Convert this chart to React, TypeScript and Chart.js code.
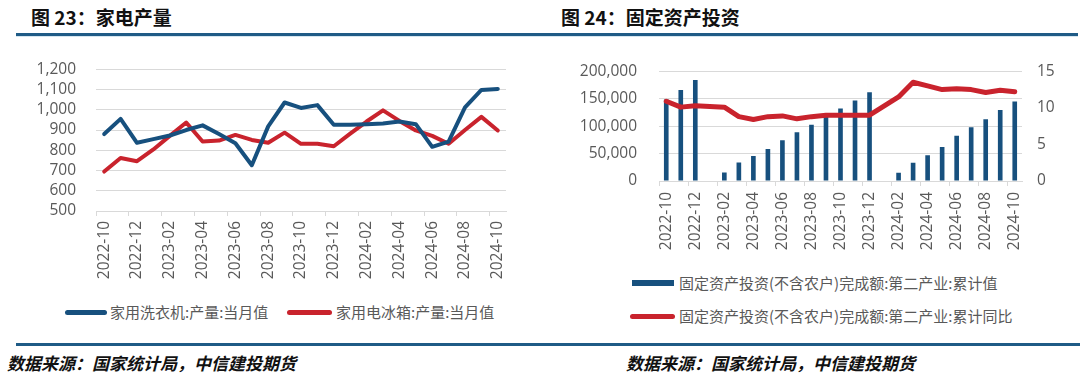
import React, { useEffect, useRef } from "react";
import { Chart, registerables } from "chart.js";
Chart.register(...registerables);

const months = [
  "2022-10", "2022-11", "2022-12",
  "2023-01", "2023-02", "2023-03", "2023-04", "2023-05", "2023-06",
  "2023-07", "2023-08", "2023-09", "2023-10", "2023-11", "2023-12",
  "2024-01", "2024-02", "2024-03", "2024-04", "2024-05", "2024-06",
  "2024-07", "2024-08", "2024-09", "2024-10",
];

// 家用洗衣机:产量:当月值
const washer = [
  880, 955, 837, 855, 873, 900, 923, 880, 835, 726, 918, 1036, 1009,
  1023, 926, 926, 929, 932, 942, 929, 817, 843, 1012, 1098, 1103,
];
// 家用电冰箱:产量:当月值
const fridge = [
  695, 762, 746, 804, 871, 937, 843, 848, 876, 851, 837, 887, 832,
  832, 820, 882, 942, 997, 945, 898, 871, 832, 900, 965, 898,
];
// 固定资产投资(不含农户)完成额:第二产业:累计值
const investCum = [
  148500, 165800, 184300, null, 15700, 33600, 45400, 58300, 74500,
  89100, 102500, 117500, 132200, 146800, 161900, null, 15100, 33100,
  47100, 62200, 82400, 98000, 112600, 129400, 145100,
];
// 固定资产投资(不含农户)完成额:第二产业:累计同比
const investYoY = [
  10.9, 10.1, 10.3, null, 10.1, 8.8, 8.4, 8.8, 8.9, 8.5, 8.8, 9.0, 9.0,
  9.0, 9.0, null, 11.5, 13.5, 13.0, 12.5, 12.6, 12.5, 12.1, 12.4, 12.2,
];

const title1 = "图 23：家电产量";
const title2 = "图 24：固定资产投资";
const legend1 = ["家用洗衣机:产量:当月值", "家用电冰箱:产量:当月值"];
const legend2 = [
  "固定资产投资(不含农户)完成额:第二产业:累计值",
  "固定资产投资(不含农户)完成额:第二产业:累计同比",
];
const sourceText = "数据来源：国家统计局，中信建投期货";

const BLUE = "#17507E";
const RED = "#C9232D";
const GRID = "#D9D9D9";
const TICK = "#595959";
const FONT = '"Open Sans", "Noto Sans CJK SC", sans-serif';
const CJK = '"Noto Sans CJK SC", "Open Sans", sans-serif';

const fmt = (v: number) => Number(v).toLocaleString("en-US");

const xTickCb = (_v: any, i: number) => (i % 2 === 0 ? months[i] : "");

function LeftChart() {
  const ref = useRef<HTMLCanvasElement>(null);
  useEffect(() => {
    const chart = new Chart(ref.current!, {
      type: "line",
      data: {
        labels: months,
        datasets: [
          {
            label: legend1[0],
            data: washer,
            borderColor: BLUE,
            backgroundColor: BLUE,
            borderWidth: 4,
            pointRadius: 0,
            tension: 0,
            borderCapStyle: "round",
            borderJoinStyle: "round",
            order: 1,
          },
          {
            label: legend1[1],
            data: fridge,
            borderColor: RED,
            backgroundColor: RED,
            borderWidth: 4,
            pointRadius: 0,
            tension: 0,
            borderCapStyle: "round",
            borderJoinStyle: "round",
            order: 2,
          },
        ],
      },
      options: {
        responsive: false,
        animation: false,
        layout: { padding: { left: 0, right: 34, top: 22, bottom: 0 } },
        plugins: { legend: { display: false }, tooltip: { enabled: false } },
        scales: {
          x: {
            offset: true,
            grid: {
              offset: true,
              drawOnChartArea: false,
              drawTicks: true,
              tickLength: 5,
              color: (c: any) => (c.index !== undefined && c.index % 2 === 0 ? GRID : "rgba(0,0,0,0)"),
            },
            border: { display: true, color: GRID, width: 1 },
            ticks: {
              autoSkip: false,
              maxRotation: 90,
              minRotation: 90,
              padding: 5,
              color: TICK,
              font: { family: FONT, size: 15.5 },
              callback: xTickCb,
            },
            afterFit: (s: any) => {
              s.height = 89;
            },
          },
          y: {
            min: 500,
            max: 1200,
            ticks: {
              stepSize: 100,
              autoSkip: false,
              padding: 20,
              color: TICK,
              font: { family: FONT, size: 15.5 },
              callback: (v: any) => fmt(v),
            },
            grid: { color: GRID, drawTicks: false },
            border: { display: false },
            afterFit: (s: any) => {
              s.width = 96;
            },
          },
        },
      },
    });
    return () => chart.destroy();
  }, []);
  return (
    <canvas
      ref={ref}
      width={540}
      height={260}
      style={{ position: "absolute", left: 0, top: 40, width: 540, height: 260 }}
    />
  );
}

function RightChart() {
  const ref = useRef<HTMLCanvasElement>(null);
  useEffect(() => {
    const chart = new Chart(ref.current!, {
      type: "bar",
      data: {
        labels: months,
        datasets: [
          {
            type: "line",
            label: legend2[1],
            data: investYoY,
            yAxisID: "y1",
            borderColor: RED,
            backgroundColor: RED,
            borderWidth: 5,
            pointRadius: 0,
            tension: 0,
            spanGaps: true,
            borderCapStyle: "round",
            borderJoinStyle: "round",
            order: 1,
          } as any,
          {
            type: "bar",
            label: legend2[0],
            data: investCum,
            yAxisID: "y",
            backgroundColor: BLUE,
            barPercentage: 0.32,
            categoryPercentage: 1,
            order: 2,
          },
        ],
      },
      options: {
        responsive: false,
        animation: false,
        layout: { padding: { left: 0, right: 0, top: 22, bottom: 0 } },
        plugins: { legend: { display: false }, tooltip: { enabled: false } },
        scales: {
          x: {
            offset: true,
            grid: {
              offset: true,
              drawOnChartArea: false,
              drawTicks: true,
              tickLength: 5,
              color: (c: any) => (c.index !== undefined && c.index % 2 === 0 ? GRID : "rgba(0,0,0,0)"),
            },
            border: { display: true, color: GRID, width: 1 },
            ticks: {
              autoSkip: false,
              maxRotation: 90,
              minRotation: 90,
              padding: 6,
              color: TICK,
              font: { family: FONT, size: 15.5 },
              callback: xTickCb,
            },
            afterFit: (s: any) => {
              s.height = 89;
            },
          },
          y: {
            position: "left",
            min: 0,
            max: 200000,
            ticks: {
              stepSize: 50000,
              autoSkip: false,
              padding: 22,
              color: TICK,
              font: { family: FONT, size: 15.5 },
              callback: (v: any) => fmt(v),
            },
            grid: { color: GRID, drawTicks: false },
            border: { display: false },
            afterFit: (s: any) => {
              s.width = 119;
            },
          },
          y1: {
            position: "right",
            min: 0,
            max: 15,
            ticks: {
              stepSize: 5,
              autoSkip: false,
              padding: 15,
              color: TICK,
              font: { family: FONT, size: 15.5 },
            },
            grid: { drawOnChartArea: false, drawTicks: false },
            border: { display: false },
            afterFit: (s: any) => {
              s.width = 58;
            },
          },
        },
      },
    });
    return () => chart.destroy();
  }, []);
  return (
    <canvas
      ref={ref}
      width={540}
      height={230}
      style={{ position: "absolute", left: 540, top: 40, width: 540, height: 230 }}
    />
  );
}

const abs = (s: React.CSSProperties): React.CSSProperties => ({ position: "absolute", ...s });

export default function App() {
  const titleStyle: React.CSSProperties = {
    fontFamily: CJK,
    fontWeight: 700,
    fontSize: 19,
    lineHeight: "22px",
    color: "#111",
    whiteSpace: "nowrap",
  };
  const legendText: React.CSSProperties = {
    fontFamily: CJK,
    fontSize: 15,
    lineHeight: "20px",
    color: TICK,
    whiteSpace: "nowrap",
  };
  const srcStyle: React.CSSProperties = {
    fontFamily: CJK,
    fontWeight: 700,
    fontStyle: "italic",
    fontSize: 17,
    lineHeight: "20px",
    color: "#111",
    whiteSpace: "nowrap",
  };
  return (
    <div style={abs({ left: 0, top: 0, width: 1080, height: 382, background: "#fff", overflow: "hidden" })}>
      <div style={abs({ left: 31, top: 6, ...titleStyle })}>{title1}</div>
      <div style={abs({ left: 561, top: 6, ...titleStyle })}>{title2}</div>
      <div style={abs({ left: 16, top: 33, width: 1062, height: 3, background: "#1F5B86" })} />
      <div style={abs({ left: 16, top: 36, width: 1062, height: 1, background: "#D5E6F0" })} />

      <LeftChart />
      <RightChart />

      {/* left legend */}
      <div style={abs({ left: 65, top: 310, width: 42, height: 5, borderRadius: 3, background: BLUE })} />
      <div style={abs({ left: 110, top: 302, ...legendText })}>{legend1[0]}</div>
      <div style={abs({ left: 287, top: 310, width: 45, height: 5, borderRadius: 3, background: RED })} />
      <div style={abs({ left: 336, top: 302, ...legendText })}>{legend1[1]}</div>

      {/* right legend */}
      <div style={abs({ left: 632, top: 280, width: 42, height: 6, background: BLUE })} />
      <div style={abs({ left: 679, top: 273, ...legendText })}>{legend2[0]}</div>
      <div style={abs({ left: 630, top: 314, width: 45, height: 5, borderRadius: 3, background: RED })} />
      <div style={abs({ left: 679, top: 306, ...legendText })}>{legend2[1]}</div>

      <div style={abs({ left: 16, top: 343, width: 1064, height: 3, background: "#1F5B86" })} />
      <div style={abs({ left: 7, top: 353, ...srcStyle })}>{sourceText}</div>
      <div style={abs({ left: 626, top: 353, ...srcStyle })}>{sourceText}</div>
    </div>
  );
}
